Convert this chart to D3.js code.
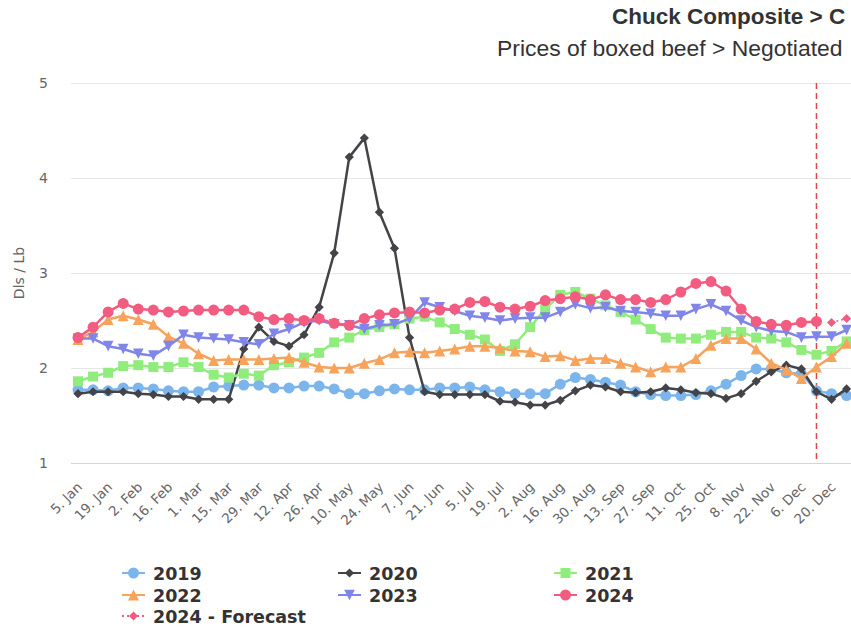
<!DOCTYPE html>
<html>
<head>
<meta charset="utf-8">
<script src="https://cdn.jsdelivr.net/npm/d3@7"></script>
<style>
  body { margin: 0; background: #fff; overflow: hidden; }
  svg { display: block; }
</style>
</head>
<body>
<div id="chart"></div>
<script>
// weekly points, Jan 5 onward; labels shown every second week
const firstWeek = new Date(2024, 0, 5);
const tickLabels = ["5. Jan", "19. Jan", "2. Feb", "16. Feb", "1. Mar", "15. Mar", "29. Mar", "12. Apr",
  "26. Apr", "10. May", "24. May", "7. Jun", "21. Jun", "5. Jul", "19. Jul", "2. Aug", "16. Aug",
  "30. Aug", "13. Sep", "27. Sep", "11. Oct", "25. Oct", "8. Nov", "22. Nov", "6. Dec", "20. Dec"];

const values2019 = [1.77, 1.77, 1.76, 1.79, 1.79, 1.78, 1.76, 1.75, 1.75, 1.80, 1.81, 1.82, 1.82, 1.79,
  1.79, 1.81, 1.81, 1.78, 1.73, 1.73, 1.76, 1.78, 1.77, 1.77, 1.79, 1.79, 1.80, 1.77, 1.75, 1.73,
  1.73, 1.73, 1.83, 1.90, 1.88, 1.85, 1.82, 1.75, 1.72, 1.71, 1.71, 1.72, 1.76, 1.83, 1.92, 1.99,
  1.99, 1.95, 1.94, 1.76, 1.73, 1.71];
const values2020 = [1.73, 1.75, 1.75, 1.75, 1.73, 1.72, 1.70, 1.70, 1.67, 1.67, 1.67, 2.20, 2.43, 2.28,
  2.23, 2.35, 2.64, 3.21, 4.22, 4.42, 3.64, 3.26, 2.32, 1.75, 1.72, 1.72, 1.72, 1.72, 1.65, 1.64,
  1.61, 1.61, 1.66, 1.76, 1.82, 1.80, 1.75, 1.74, 1.75, 1.79, 1.77, 1.74, 1.73, 1.68, 1.73, 1.86,
  1.96, 2.03, 1.99, 1.75, 1.67, 1.78];
const values2021 = [1.86, 1.91, 1.95, 2.02, 2.03, 2.01, 2.01, 2.06, 2.01, 1.93, 1.90, 1.94, 1.92, 2.03,
  2.06, 2.11, 2.16, 2.27, 2.32, 2.40, 2.43, 2.46, 2.52, 2.54, 2.48, 2.41, 2.35, 2.30, 2.18, 2.25,
  2.43, 2.62, 2.77, 2.80, 2.73, 2.66, 2.59, 2.51, 2.41, 2.32, 2.31, 2.31, 2.35, 2.38, 2.38, 2.32,
  2.31, 2.27, 2.19, 2.14, 2.18, 2.28];
const values2022 = [2.30, 2.38, 2.51, 2.55, 2.51, 2.46, 2.33, 2.26, 2.15, 2.08, 2.09, 2.09, 2.09, 2.10,
  2.11, 2.06, 2.01, 2.00, 2.00, 2.05, 2.09, 2.16, 2.17, 2.16, 2.18, 2.20, 2.23, 2.23, 2.21, 2.18,
  2.17, 2.12, 2.13, 2.08, 2.10, 2.10, 2.05, 2.01, 1.96, 2.01, 2.01, 2.10, 2.24, 2.31, 2.31, 2.20,
  2.05, 1.98, 1.89, 2.01, 2.12, 2.26];
const values2023 = [2.31, 2.31, 2.23, 2.20, 2.15, 2.13, 2.23, 2.35, 2.32, 2.31, 2.30, 2.27, 2.25, 2.36,
  2.41, 2.48, 2.50, 2.46, 2.45, 2.41, 2.45, 2.46, 2.52, 2.69, 2.64, 2.60, 2.55, 2.53, 2.50, 2.52,
  2.53, 2.53, 2.59, 2.67, 2.63, 2.64, 2.60, 2.59, 2.57, 2.55, 2.55, 2.62, 2.67, 2.60, 2.50, 2.43,
  2.39, 2.38, 2.32, 2.33, 2.33, 2.40];
const values2024 = [2.32, 2.43, 2.59, 2.68, 2.62, 2.61, 2.59, 2.60, 2.61, 2.61, 2.61, 2.61, 2.54, 2.51,
  2.52, 2.50, 2.52, 2.47, 2.45, 2.52, 2.56, 2.58, 2.59, 2.58, 2.61, 2.62, 2.69, 2.70, 2.64, 2.62,
  2.65, 2.71, 2.73, 2.75, 2.72, 2.77, 2.72, 2.72, 2.69, 2.72, 2.80, 2.89, 2.91, 2.81, 2.62, 2.49,
  2.46, 2.45, 2.48, 2.49];
// forecast starts at week index 50
const forecastStart = 50;
const values2024Forecast = [2.48, 2.52];
const lastActualWeek = 49;

const width = 851;
const height = 629;
const plot = { left: 71, right: 900, top: 83, bottom: 463 };

const weeks = d3.range(52).map((i) => d3.timeDay.offset(firstWeek, 7 * i));

const series = [
  { name: "2019", values: values2019, color: "#7cb5ec", symbol: "circle", r: 5.5 },
  { name: "2020", values: values2020, color: "#434348", symbol: "diamond", r: 4.6 },
  { name: "2021", values: values2021, color: "#90ed7d", symbol: "square", r: 5 },
  { name: "2022", values: values2022, color: "#f7a35c", symbol: "triangle", r: 5.5 },
  { name: "2023", values: values2023, color: "#8085e9", symbol: "triangle-down", r: 5.3 },
  { name: "2024", values: values2024, color: "#f15c80", symbol: "circle", r: 5.5 },
  { name: "2024 - Forecast", values: values2024Forecast, offset: forecastStart, color: "#f15c80",
    symbol: "diamond", r: 4.5, dotted: true },
];

function symbolPath(type, r) {
  if (type === "circle") return `M${-r},0a${r},${r} 0 1,0 ${2 * r},0a${r},${r} 0 1,0 ${-2 * r},0Z`;
  if (type === "square") return `M${-r},${-r}H${r}V${r}H${-r}Z`;
  if (type === "diamond") return `M0,${-r}L${r},0L0,${r}L${-r},0Z`;
  if (type === "triangle") return `M0,${-r}L${r},${r}L${-r},${r}Z`;
  if (type === "triangle-down") return `M${-r},${-r}L${r},${-r}L0,${r}Z`;
  return "";
}

const svg = d3.select("#chart").append("svg")
  .attr("width", width)
  .attr("height", height)
  .attr("viewBox", `0 0 ${width} ${height}`);

const x = d3.scaleTime()
  .domain([weeks[0], weeks[51]])
  .range([78, 846.6]);

const y = d3.scaleLinear()
  .domain([1, 5])
  .range([plot.bottom, plot.top]);

// titles: the source chart is cut at the right edge, only the visible part is kept
svg.append("text")
  .attr("x", 612)
  .attr("y", 24)
  .attr("font-family", "'Liberation Sans', Arial, sans-serif")
  .attr("font-size", "22.5px")
  .attr("font-weight", "bold")
  .attr("fill", "#333")
  .text("Chuck Composite > C");

svg.append("text")
  .attr("x", 497)
  .attr("y", 56)
  .attr("font-family", "'Liberation Sans', Arial, sans-serif")
  .attr("font-size", "22.9px")
  .attr("fill", "#333")
  .text("Prices of boxed beef > Negotiated");

// grid + y labels
const yTicks = [1, 2, 3, 4, 5];
svg.append("g")
  .selectAll("line")
  .data(yTicks.slice(1))
  .join("line")
  .attr("x1", plot.left)
  .attr("x2", plot.right)
  .attr("y1", (d) => Math.round(y(d)) + 0.5)
  .attr("y2", (d) => Math.round(y(d)) + 0.5)
  .attr("stroke", "#e6e6e6")
  .attr("stroke-width", 1);

svg.append("g")
  .selectAll("text")
  .data(yTicks)
  .join("text")
  .attr("x", 48)
  .attr("y", (d) => y(d) + 5)
  .attr("text-anchor", "end")
  .attr("font-family", "'DejaVu Sans', sans-serif")
  .attr("font-size", "14px")
  .attr("fill", "#666")
  .text((d) => d);

svg.append("text")
  .attr("transform", `translate(24,${(plot.top + plot.bottom) / 2}) rotate(-90)`)
  .attr("text-anchor", "middle")
  .attr("font-family", "'DejaVu Sans', sans-serif")
  .attr("font-size", "14px")
  .attr("fill", "#666")
  .text("Dls / Lb");

// x axis line + rotated labels
svg.append("line")
  .attr("x1", plot.left)
  .attr("x2", plot.right)
  .attr("y1", plot.bottom + 0.5)
  .attr("y2", plot.bottom + 0.5)
  .attr("stroke", "#ccd6eb");

svg.append("g")
  .selectAll("text")
  .data(tickLabels)
  .join("text")
  .attr("transform", (d, i) => `translate(${x(weeks[i * 2]) + 5},${plot.bottom + 25}) rotate(-45)`)
  .attr("text-anchor", "end")
  .attr("font-family", "'DejaVu Sans', sans-serif")
  .attr("font-size", "13.5px")
  .attr("fill", "#666")
  .text((d) => d);

// forecast marker line
svg.append("line")
  .attr("x1", x(weeks[lastActualWeek]))
  .attr("x2", x(weeks[lastActualWeek]))
  .attr("y1", plot.top)
  .attr("y2", plot.bottom)
  .attr("stroke", "#e0474c")
  .attr("stroke-width", 1.5)
  .attr("stroke-dasharray", "6,4");

// series
const line = d3.line()
  .x((d) => x(d.date))
  .y((d) => y(d.value));

series.forEach((s) => {
  const pts = s.values.map((v, i) => ({ date: weeks[(s.offset || 0) + i], value: v }));
  const g = svg.append("g");
  g.append("path")
    .datum(pts)
    .attr("d", line)
    .attr("fill", "none")
    .attr("stroke", s.color)
    .attr("stroke-width", s.dotted ? 1.5 : 2.5)
    .attr("stroke-dasharray", s.dotted ? "2,3" : null)
    .attr("stroke-linejoin", "round");
  g.selectAll("path.mark")
    .data(pts)
    .join("path")
    .attr("class", "mark")
    .attr("transform", (d) => `translate(${x(d.date)},${y(d.value)})`)
    .attr("d", symbolPath(s.symbol, s.r))
    .attr("fill", s.color);
});

// legend
const legendCols = [122, 338, 554];
const legendRows = [573, 595, 616];
const legend = svg.append("g");
series.forEach((s, i) => {
  const lx = legendCols[i % 3];
  const ly = legendRows[Math.floor(i / 3)];
  const item = legend.append("g").attr("transform", `translate(${lx},${ly})`);
  item.append("line")
    .attr("x1", 0)
    .attr("x2", 23)
    .attr("stroke", s.color)
    .attr("stroke-width", 2)
    .attr("stroke-dasharray", s.dotted ? "2,3" : null);
  item.append("path")
    .attr("transform", "translate(11.5,0)")
    .attr("d", symbolPath(s.symbol, s.r))
    .attr("fill", s.color);
  item.append("text")
    .attr("x", 31)
    .attr("y", 6.5)
    .attr("font-family", "'DejaVu Sans', sans-serif")
    .attr("font-size", "17.5px")
    .attr("font-weight", "bold")
    .attr("fill", "#333")
    .text(s.name);
});
</script>
</body>
</html>
